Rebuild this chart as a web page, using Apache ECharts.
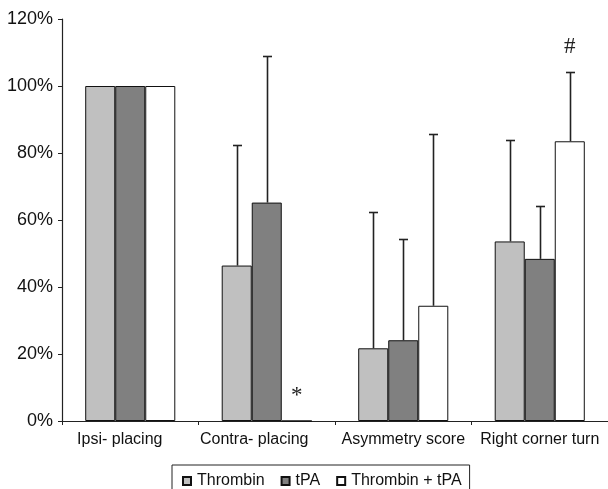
<!DOCTYPE html>
<html>
<head>
<meta charset="utf-8">
<script src="https://cdn.jsdelivr.net/npm/echarts@6/dist/echarts.min.js"></script>
<style>html,body{margin:0;padding:0;background:#fff;}#c{width:608px;height:489px;}</style>
</head>
<body>
<div id="c"></div>
<script>
// ---- data ----
const categories = ['Ipsi- placing', 'Contra- placing', 'Asymmetry score', 'Right corner turn'];
const seriesNames = ['Thrombin', 'tPA', 'Thrombin + tPA'];
const thrombin = [100, 46.4, 21.7, 53.6];
const tpa = [100, 65.2, 24.1, 48.4];
const combined = [100, 0, 34.4, 83.5];
const thrombinUpper = [null, 82.3, 62.4, 83.8];
const tpaUpper = [null, 108.9, 54.3, 64.2];
const combinedUpper = [null, null, 85.6, 104.2];
const yTicks = [0, 20, 40, 60, 80, 100, 120];
const annotations = [
  { category: 1, seriesIndex: 2, value: 7.6, text: '*' },
  { category: 3, seriesIndex: 2, value: 111.8, text: '#' }
];

// ---- styling / layout ----
const colors = ['#c0c0c0', '#808080', '#ffffff'];
const catGap = 0.34;
const labelPad = [21, 25, 0, 0];

const chart = echarts.init(document.getElementById('c'), null, { renderer: 'canvas' });

const values = [thrombin, tpa, combined];
const uppers = [thrombinUpper, tpaUpper, combinedUpper];

function barOffset(api, si) {
  const band = api.size([1, 0])[0];
  const bw = band * (1 - catGap) / 3;
  return (si - 1) * bw;
}

function errorSeries(si) {
  return {
    type: 'custom',
    name: seriesNames[si] + ' err',
    z: 5,
    silent: true,
    encode: { x: 0, y: 1 },
    data: categories.map((c, i) => [i, uppers[si][i], values[si][i]]).filter(d => d[1] != null),
    renderItem: function (params, api) {
      const ci = api.value(0);
      const hi = api.value(1);
      const v = api.value(2);
      const off = barOffset(api, si);
      const b = api.coord([ci, v]);
      const t = api.coord([ci, hi]);
      const x = Math.round(b[0] + off) + 0.5;
      const ty = Math.round(t[1]) + 0.5;
      const st = { stroke: '#222', lineWidth: 1.6 };
      return {
        type: 'group',
        children: [
          { type: 'line', shape: { x1: x, y1: b[1], x2: x, y2: ty }, style: st },
          { type: 'line', shape: { x1: x - 4.5, y1: ty, x2: x + 4.5, y2: ty }, style: st }
        ]
      };
    }
  };
}

const barSeries = values.map((vals, si) => ({
  type: 'bar',
  name: seriesNames[si],
  data: vals,
  barGap: '0%',
  barCategoryGap: (catGap * 100) + '%',
  itemStyle: { color: colors[si], borderColor: '#111', borderWidth: 1 },
  emphasis: { disabled: true },
  z: 2
}));

const annotSeries = {
  type: 'custom',
  name: 'annot',
  z: 6,
  silent: true,
  encode: { x: 0, y: 1 },
  data: annotations.map(a => [a.category, a.value, a.seriesIndex]),
  renderItem: function (params, api) {
    const ci = api.value(0);
    const v = api.value(1);
    const si = api.value(2);
    const txt = annotations[params.dataIndex].text;
    const p = api.coord([ci, v]);
    const off = barOffset(api, si);
    return {
      type: 'text',
      style: {
        x: p[0] + off, y: p[1], text: txt,
        align: 'center', verticalAlign: 'middle',
        font: '23px "Liberation Serif", serif', fill: '#222'
      }
    };
  }
};

const option = {
  animation: false,
  backgroundColor: '#fff',
  grid: { left: 62, top: 19, width: 551, height: 402, containLabel: false },
  legend: {
    data: seriesNames,
    left: 172, bottom: -8,
    orient: 'horizontal',
    itemWidth: 8, itemHeight: 8, itemGap: 16,
    icon: 'rect',
    borderColor: '#222', borderWidth: 1,
    padding: [8, 8, 8, 10],
    textStyle: { fontFamily: '"Liberation Sans", Arial, sans-serif', fontSize: 16, color: '#111', padding: [0, 0, 0, 1] },
    selectedMode: false
  },
  xAxis: {
    type: 'category',
    data: categories.map((c, i) => ({ value: c, textStyle: { padding: [0, labelPad[i], 0, 0] } })),
    axisLine: { lineStyle: { color: '#222', width: 1.2 } },
    axisTick: { show: true, length: 4, lineStyle: { color: '#222' } },
    axisLabel: { interval: 0, margin: 11, fontFamily: '"Liberation Sans", Arial, sans-serif', fontSize: 16, color: '#111' },
    splitLine: { show: false }
  },
  yAxis: {
    type: 'value',
    min: yTicks[0], max: yTicks[yTicks.length - 1], interval: yTicks[1] - yTicks[0],
    axisLine: { show: true, lineStyle: { color: '#222', width: 1.2 } },
    axisTick: { show: true, length: 4, inside: false, lineStyle: { color: '#222' } },
    axisLabel: { formatter: '{value}%', margin: 9, fontFamily: '"Liberation Sans", Arial, sans-serif', fontSize: 18, color: '#111' },
    splitLine: { show: false }
  },
  series: barSeries.concat([errorSeries(0), errorSeries(1), errorSeries(2), annotSeries])
};

chart.setOption(option);
</script>
</body>
</html>
